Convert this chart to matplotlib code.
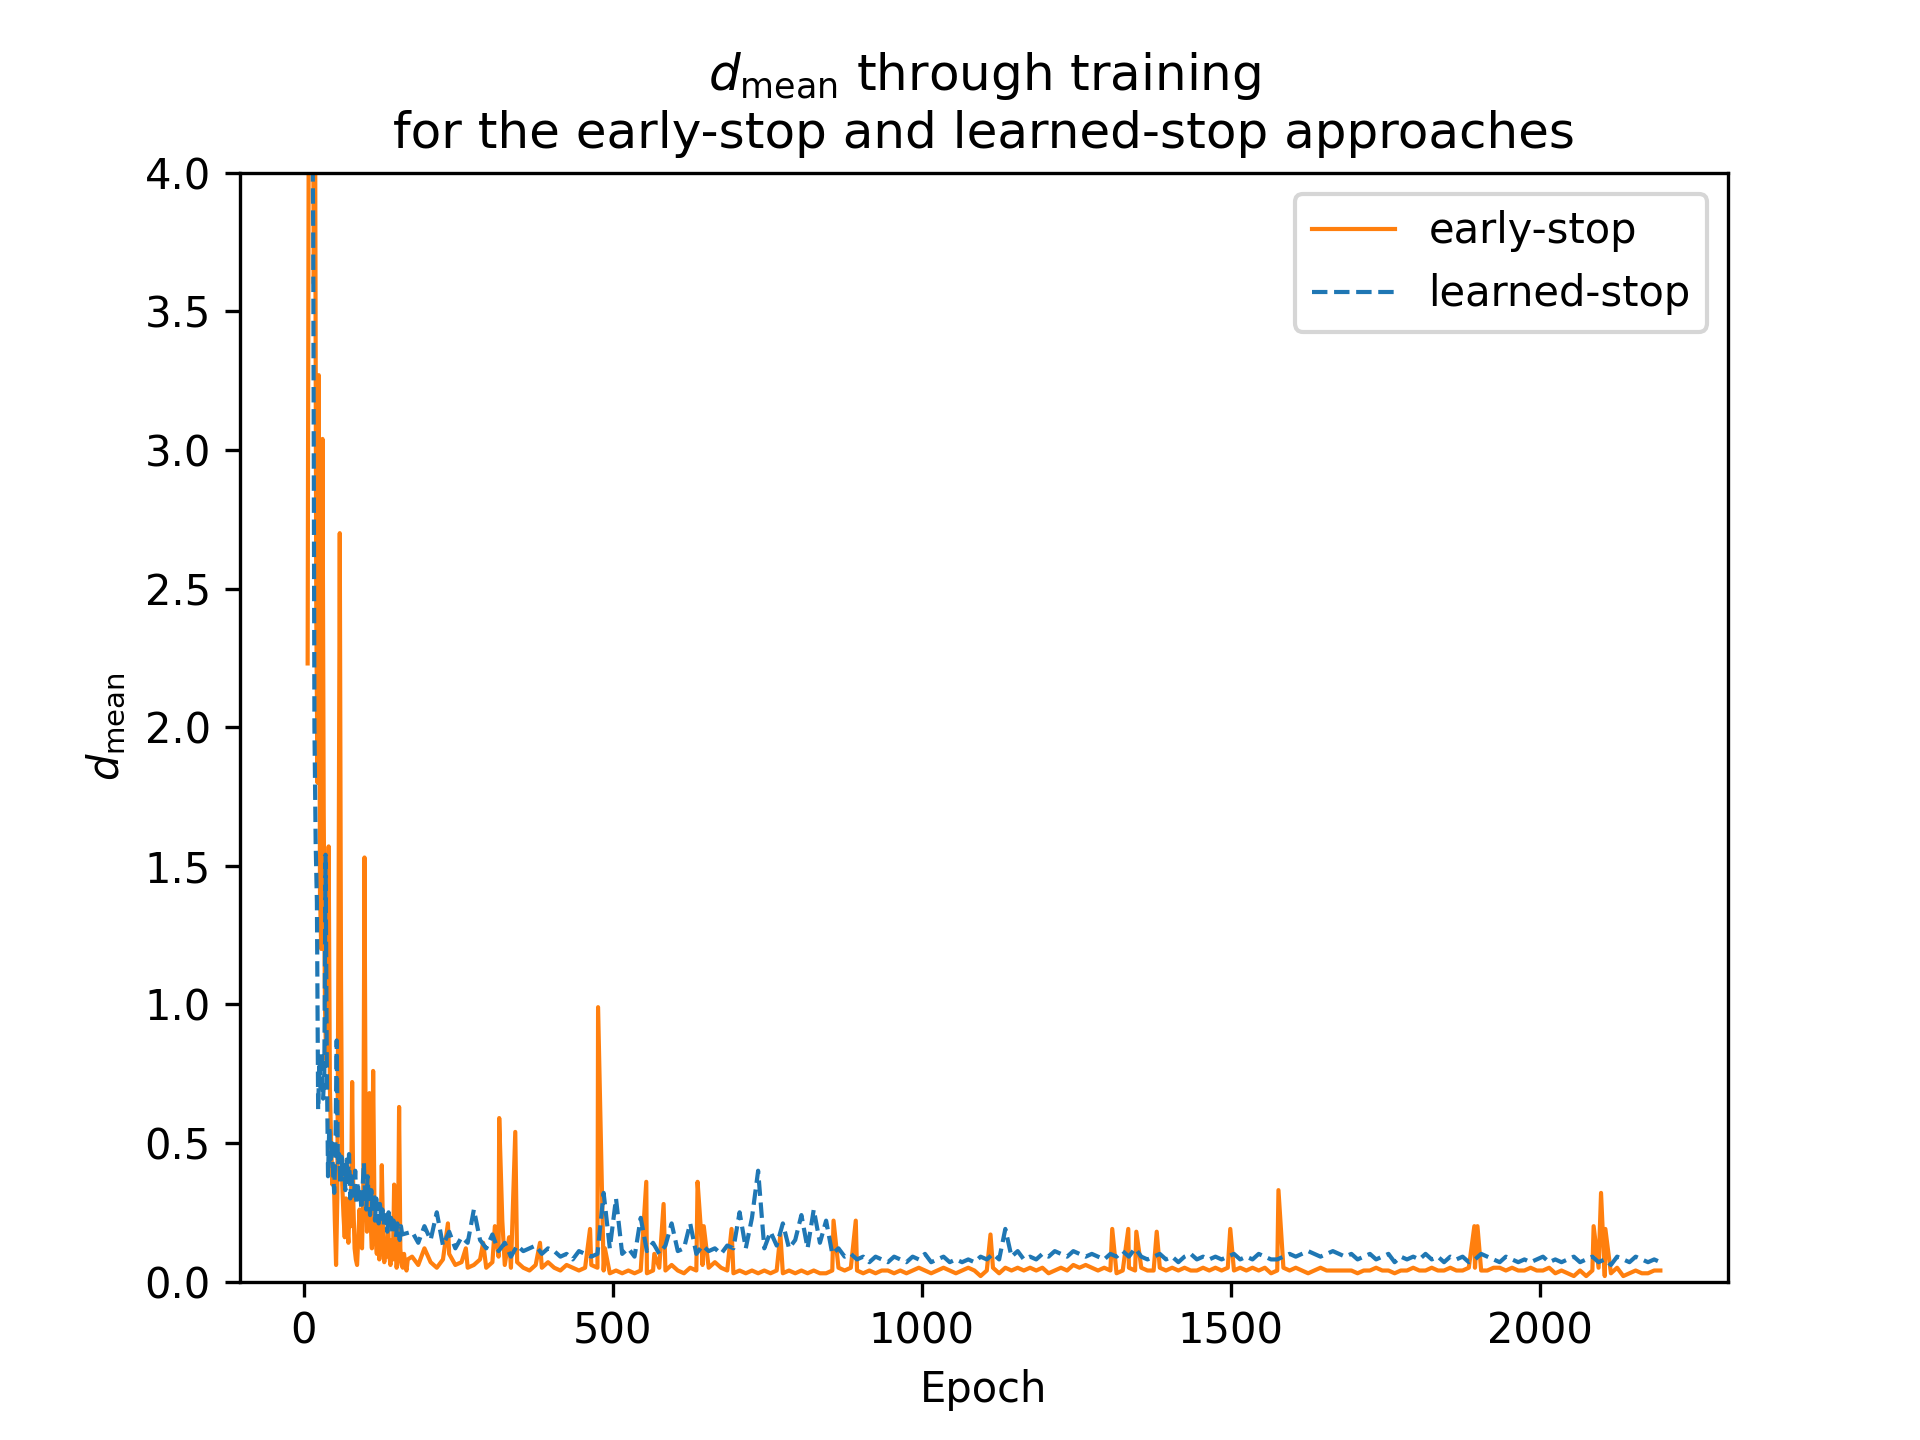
import numpy as np
import matplotlib
matplotlib.use("Agg")
import matplotlib.pyplot as plt

# early-stop (orange): dense start, then every 10 epochs, plus spikes
es_early_epochs = list(range(6, 170, 2))
es_early_vals = [2.23, 4.6, 5.0, 4.5, 4.8, 3.6, 4.3, 2.4, 1.8, 3.27,
                 1.4, 1.2, 3.04, 1.7, 1.0, 0.8, 1.1, 1.57, 0.7, 0.5,
                 0.35, 0.42, 0.22, 0.06, 0.3, 1.3, 2.70, 1.1, 0.35, 0.24,
                 0.16, 0.3, 0.2, 0.14, 0.3, 0.2, 0.72, 0.28, 0.12, 0.08,
                 0.06, 0.16, 0.26, 0.18, 0.12, 0.32, 1.53, 0.45, 0.18, 0.26,
                 0.68, 0.22, 0.12, 0.76, 0.3, 0.15, 0.1, 0.22, 0.08, 0.15,
                 0.42, 0.18, 0.07, 0.12, 0.09, 0.22, 0.1, 0.06, 0.15, 0.08,
                 0.35, 0.12, 0.05, 0.09, 0.63, 0.12, 0.06, 0.05, 0.1, 0.06,
                 0.04, 0.08]
es_tail_epochs = list(range(175, 2200, 10))
es_tail_vals = [0.09, 0.06, 0.12, 0.07, 0.05, 0.08, 0.10, 0.06, 0.07, 0.05,
                0.06, 0.08, 0.05, 0.07, 0.09, 0.06, 0.05, 0.07, 0.05, 0.04,
                0.06, 0.05, 0.07, 0.05, 0.04, 0.06, 0.05, 0.04, 0.05, 0.06,
                0.05, 0.04, 0.03, 0.04, 0.03, 0.04, 0.03, 0.04, 0.03, 0.04,
                0.05, 0.04, 0.06, 0.04, 0.03, 0.05, 0.04, 0.06, 0.05, 0.07,
                0.05, 0.04, 0.03, 0.04, 0.03, 0.04, 0.03, 0.04, 0.03, 0.04,
                0.03, 0.04, 0.03, 0.04, 0.03, 0.04, 0.03, 0.03, 0.04, 0.05,
                0.04, 0.05, 0.04, 0.03, 0.04, 0.03, 0.04, 0.04, 0.03, 0.04,
                0.03, 0.04, 0.05, 0.04, 0.03, 0.04, 0.05, 0.04, 0.03, 0.04,
                0.05, 0.04, 0.02, 0.04, 0.05, 0.03, 0.05, 0.04, 0.05, 0.04,
                0.05, 0.04, 0.05, 0.03, 0.04, 0.05, 0.04, 0.06, 0.05, 0.06,
                0.05, 0.04, 0.05, 0.04, 0.03, 0.04, 0.05, 0.04, 0.05, 0.04,
                0.04, 0.05, 0.04, 0.05, 0.04, 0.05, 0.04, 0.04, 0.05, 0.04,
                0.05, 0.04, 0.05, 0.04, 0.05, 0.04, 0.05, 0.04, 0.05, 0.03,
                0.04, 0.05, 0.04, 0.05, 0.04, 0.03, 0.04, 0.05, 0.04, 0.04,
                0.04, 0.04, 0.04, 0.03, 0.04, 0.04, 0.05, 0.04, 0.04, 0.03,
                0.04, 0.04, 0.05, 0.04, 0.04, 0.05, 0.04, 0.04, 0.05, 0.04,
                0.04, 0.05, 0.05, 0.04, 0.04, 0.05, 0.05, 0.04, 0.05, 0.04,
                0.04, 0.05, 0.04, 0.04, 0.05, 0.03, 0.04, 0.03, 0.02, 0.04,
                0.02, 0.04, 0.05, 0.02, 0.03, 0.05, 0.02, 0.03, 0.04, 0.03,
                0.03, 0.04, 0.04]
es_spike_epochs = [233, 262, 290, 309, 316, 321, 332, 342, 382, 463,
                   476, 487, 554, 567, 582, 637, 642, 647, 692, 771,
                   857, 893, 1111, 1308, 1334, 1347, 1380, 1499, 1577, 1894,
                   1899, 2087, 2099, 2106]
es_spike_vals = [0.21, 0.12, 0.14, 0.20, 0.59, 0.22, 0.16, 0.54, 0.14, 0.19,
                 0.99, 0.12, 0.36, 0.10, 0.28, 0.36, 0.20, 0.20, 0.19, 0.17,
                 0.22, 0.22, 0.17, 0.19, 0.19, 0.18, 0.18, 0.19, 0.33, 0.20,
                 0.20, 0.20, 0.32, 0.19]

# learned-stop (blue)
ls_early_epochs = list(range(9, 161, 2))
ls_early_vals = [4.3, 4.6, 4.4, 3.8, 2.0, 1.58, 1.37, 0.62, 0.8, 0.7,
                 0.83, 0.66, 0.75, 1.54, 0.8, 0.38, 0.56, 0.44, 0.5, 0.4,
                 0.32, 0.48, 0.87, 0.42, 0.46, 0.35, 0.45, 0.38, 0.42, 0.33,
                 0.44, 0.36, 0.46, 0.3, 0.38, 0.34, 0.31, 0.4, 0.28, 0.36,
                 0.3, 0.33, 0.26, 0.34, 0.43, 0.3, 0.26, 0.38, 0.3, 0.24,
                 0.33, 0.27, 0.32, 0.22, 0.3, 0.25, 0.21, 0.28, 0.23, 0.26,
                 0.2, 0.24, 0.22, 0.18, 0.25, 0.2, 0.23, 0.18, 0.22, 0.19,
                 0.16, 0.21, 0.19, 0.15, 0.2, 0.17]
ls_tail_epochs = list(range(175, 2200, 10))
ls_tail_vals = [0.18, 0.14, 0.2, 0.15, 0.25, 0.13, 0.18, 0.12, 0.16, 0.14,
                0.26, 0.15, 0.12, 0.17, 0.11, 0.14, 0.09, 0.13, 0.11, 0.12,
                0.13, 0.1, 0.12, 0.11, 0.09, 0.1, 0.08, 0.11, 0.1, 0.09,
                0.1, 0.32, 0.12, 0.3, 0.1, 0.12, 0.09, 0.23, 0.11, 0.14,
                0.1, 0.13, 0.21, 0.11, 0.12, 0.21, 0.1, 0.13, 0.11, 0.12,
                0.1, 0.13, 0.12, 0.25, 0.12, 0.23, 0.40, 0.12, 0.18, 0.13,
                0.21, 0.12, 0.15, 0.24, 0.12, 0.26, 0.14, 0.22, 0.1, 0.12,
                0.09, 0.1, 0.08, 0.09, 0.07, 0.09, 0.08, 0.07, 0.09, 0.08,
                0.07, 0.09, 0.08, 0.1, 0.07, 0.08, 0.09, 0.07, 0.08, 0.07,
                0.08, 0.07, 0.09, 0.08, 0.1, 0.08, 0.19, 0.09, 0.11, 0.08,
                0.09, 0.08, 0.1, 0.09, 0.11, 0.1, 0.09, 0.11, 0.1, 0.09,
                0.1, 0.09, 0.08, 0.1, 0.09, 0.11, 0.09, 0.12, 0.09, 0.08,
                0.09, 0.1, 0.08, 0.09, 0.07, 0.09, 0.1, 0.08, 0.09, 0.08,
                0.09, 0.08, 0.09, 0.1, 0.08, 0.09, 0.08, 0.1, 0.09, 0.08,
                0.08, 0.09, 0.1, 0.09, 0.1, 0.11, 0.1, 0.09, 0.1, 0.11,
                0.1, 0.09, 0.1, 0.08, 0.09, 0.1, 0.08, 0.09, 0.1, 0.07,
                0.09, 0.08, 0.09, 0.08, 0.1, 0.08, 0.09, 0.07, 0.09, 0.08,
                0.09, 0.07, 0.08, 0.1, 0.09, 0.08, 0.07, 0.09, 0.08, 0.07,
                0.08, 0.07, 0.08, 0.09, 0.07, 0.08, 0.07, 0.08, 0.09, 0.07,
                0.08, 0.09, 0.07, 0.08, 0.06, 0.09, 0.08, 0.07, 0.09, 0.08,
                0.07, 0.08, 0.07]


def merge(*parts):
    ep = np.concatenate([np.asarray(p[0], float) for p in parts])
    va = np.concatenate([np.asarray(p[1], float) for p in parts])
    order = np.argsort(ep, kind="stable")
    return ep[order], va[order]


es_x, es_y = merge((es_early_epochs, es_early_vals),
                   (es_tail_epochs, es_tail_vals),
                   (es_spike_epochs, es_spike_vals))
ls_x, ls_y = merge((ls_early_epochs, ls_early_vals),
                   (ls_tail_epochs, ls_tail_vals))

fig = plt.figure(figsize=(6.4, 4.8), dpi=300)
ax = fig.add_subplot(1, 1, 1)
ax.plot(es_x, es_y, color="C1", linewidth=1.0, linestyle="-", label="early-stop")
ax.plot(ls_x, ls_y, color="C0", linewidth=1.0, linestyle="--", label="learned-stop")
ax.set_ylim(0, 4)
ax.set_xlabel("Epoch")
ax.set_ylabel(r"$d_{\mathrm{mean}}$")
ax.set_title(r"$d_{\mathrm{mean}}$ through training" + "\n"
             + "for the early-stop and learned-stop approaches")
ax.legend(loc="upper right")

fig.savefig("out.png", dpi=300)
